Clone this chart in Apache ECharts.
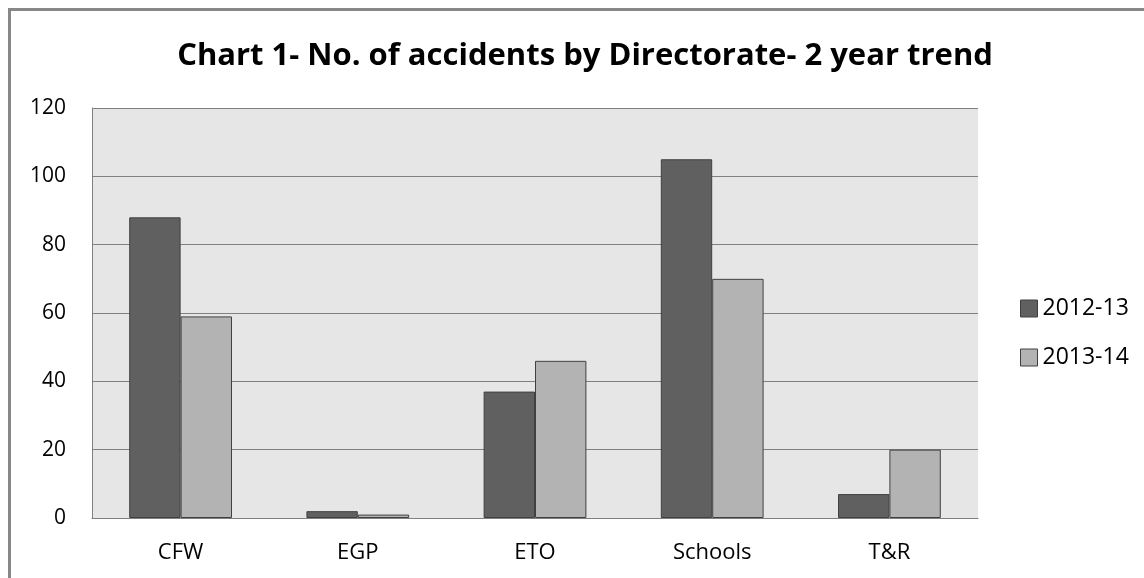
<!DOCTYPE html>
<html><head><meta charset="utf-8">
<script src="https://cdn.jsdelivr.net/npm/echarts@6/dist/echarts.min.js"></script>
<style>
html,body{margin:0;padding:0;background:#fff;overflow:hidden;}
#c{position:absolute;left:0;top:0;width:1144px;height:578px;}
</style></head>
<body>
<div id="c"></div>
<script>
const categories = ['CFW', 'EGP', 'ETO', 'Schools', 'T&R'];
const series2012 = [88, 2, 37, 105, 7];
const series2013 = [59, 1, 46, 70, 20];
const seriesNames = ['2012-13', '2013-14'];
const yTicks = [0, 20, 40, 60, 80, 100, 120];

const font = 'Open Sans';
const chart = echarts.init(document.getElementById('c'), null, {renderer: 'canvas'});
chart.setOption({
  animation: false,
  graphic: [
    {type: 'line', silent: true, shape: {x1: 8, y1: 9.5, x2: 1144, y2: 9.5}, style: {stroke: '#888', lineWidth: 3}},
    {type: 'line', silent: true, shape: {x1: 9.5, y1: 8, x2: 9.5, y2: 578}, style: {stroke: '#888', lineWidth: 3}}
  ],
  title: {
    text: 'Chart 1- No. of accidents by Directorate- 2 year trend',
    left: 580, textAlign: 'center', top: 36,
    textStyle: {fontFamily: font, fontWeight: 'bold', fontSize: 31, color: '#000'}
  },
  legend: {
    orient: 'vertical', left: 1020, top: 297, itemGap: 26, padding: 0,
    itemWidth: 17, itemHeight: 17, itemTextGap: 6,
    textStyle: {fontFamily: font, fontSize: 23, color: '#000'},
    data: seriesNames.map((n, i) => ({name: n, icon: 'rect',
      itemStyle: {color: i ? '#b3b3b3' : '#606060', borderColor: '#404040', borderWidth: 1}}))
  },
  grid: {left: 92, top: 108, width: 886, height: 410, show: true, backgroundColor: '#e6e6e6', borderWidth: 0},
  xAxis: {
    type: 'category', data: categories,
    axisLine: {show: true, lineStyle: {color: '#808080', width: 1}},
    axisTick: {show: false},
    axisLabel: {fontFamily: font, fontSize: 22, color: '#000', margin: 24}
  },
  yAxis: {
    type: 'value', min: 0, max: 120, interval: 20,
    axisLine: {show: true, lineStyle: {color: '#808080', width: 1}}, axisTick: {show: false},
    splitLine: {show: true, lineStyle: {color: '#808080', width: 1}},
    axisLabel: {fontFamily: font, fontSize: 21, color: '#000', margin: 26,
      formatter: v => yTicks.includes(v) ? String(v) : ''}
  },
  series: [
    {name: seriesNames[0], type: 'bar', data: series2012, barGap: '0%', barCategoryGap: '42%',
     itemStyle: {color: '#606060', borderColor: '#404040', borderWidth: 1}},
    {name: seriesNames[1], type: 'bar', data: series2013,
     itemStyle: {color: '#b3b3b3', borderColor: '#404040', borderWidth: 1}}
  ]
});
</script>
</body></html>
